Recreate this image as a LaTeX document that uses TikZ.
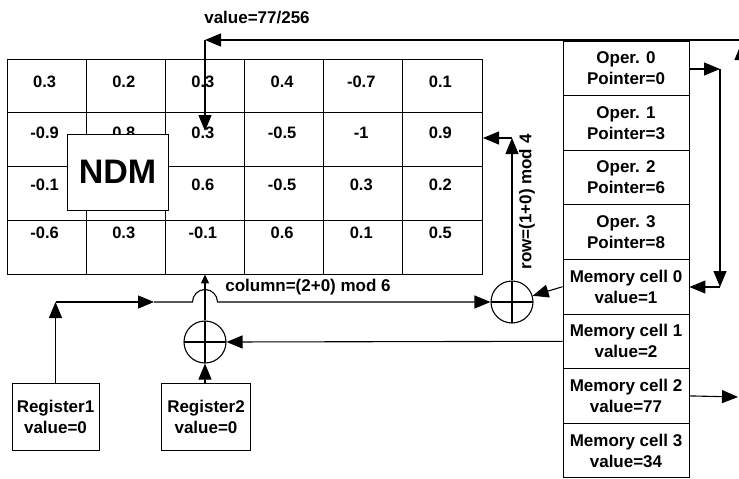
\documentclass[tikz,border=0pt]{standalone}
\usepackage{fontspec}
\setmainfont{Liberation Sans}
\usetikzlibrary{arrows.meta}
\begin{document}
\begin{tikzpicture}[x=1pt,y=-1pt,line width=1.1pt,
  arr/.style={-{Triangle[length=16pt,width=13pt]}},
  sarr/.style={-{Triangle[length=9pt,width=8pt]}},
  cellbox/.style={draw,line width=0.8pt,minimum width=79.17pt,minimum height=53.75pt,inner sep=0pt},
  celltxt/.style={font=\fontsize{16.5}{20}\selectfont\bfseries,inner sep=0pt},
  membox/.style={draw,line width=0.9pt,minimum width=126pt,minimum height=54.6pt,inner sep=0pt,align=center,font=\fontsize{17}{21}\selectfont\bfseries},
  regbox/.style={draw,line width=0.9pt,minimum height=67pt,inner sep=0pt,align=center,font=\fontsize{17}{21}\selectfont\bfseries},
  lbl/.style={inner sep=0pt,font=\fontsize{17}{21}\selectfont\bfseries},
  xorc/.style={draw,circle,minimum size=42pt,inner sep=0pt,
    path picture={\draw (path picture bounding box.north) -- (path picture bounding box.south)
                        (path picture bounding box.west) -- (path picture bounding box.east);}}]
\useasboundingbox (0,0) rectangle (739,479);
\clip (0,0) rectangle (739,479);
% grid
\foreach \r in {1,...,4}
  \foreach \c in {1,...,6}
    \node[cellbox] (g\r\c) at ({7+79.17*(\c-0.5)},{59+53.75*(\r-0.5)}) {};
\foreach \r/\ty/\vals in {1/82/{0.3,0.2,0.3,0.4,-0.7,0.1},
                          2/133/{-0.9,0.8,0.3,-0.5,-1,0.9},
                          3/185/{-0.1,,0.6,-0.5,0.3,0.2},
                          4/233/{-0.6,0.3,-0.1,0.6,0.1,0.5}}
  \foreach \v [count=\c] in \vals
    \node[celltxt] (t\r\c) at ({7+79.17*(\c-0.5)-2},\ty) {\v};
% NDM
\node[draw,fill=white,line width=0.9pt,minimum width=101pt,minimum height=76pt,inner sep=0pt,
      font=\fontsize{34}{40}\selectfont\bfseries] (ndm) at (117.5,172) {NDM};
% memory column
\foreach \t [count=\i from 0] in {{Oper. 0\\Pointer=0},{Oper. 1\\Pointer=3},{Oper. 2\\Pointer=6},{Oper. 3\\Pointer=8},
   {Memory cell 0\\value=1},{Memory cell 1\\value=2},{Memory cell 2\\value=77},{Memory cell 3\\value=34}}
  \node[membox] (m\i) at (626,{41+54.6*(\i+0.5)}) {\t};
% registers
\node[regbox,minimum width=87pt] (r1) at (55.5,417) {Register1\\value=0};
\node[regbox,minimum width=89pt] (r2) at (206,416.5) {Register2\\value=0};
% adders
\node[xorc] (c1) at (512,302) {};
\node[xorc] (c2) at (205,342) {};
% labels
\node[lbl] (lv) at (257,18) {value=77/256};
\node[lbl] (lc) at (308,287) {column=(2+0) mod 6};
\node[lbl,rotate=90] (lr) at (527,202) {row=(1+0) mod 4};
% top connector
\coordinate (tr) at (741,40);
\coordinate (tc) at (205,40);
\coordinate (td) at (205,131);
\draw[arr] (tr) -- (tc);
\draw[arr] (tc) -- (td);
\coordinate (ub) at (741,397);
\coordinate (ut) at (741,44);
\draw[arr] (ub) -- (ut);
\coordinate (m6r) at (738,397);
\draw[arr] (m6.east) -- (m6r);
% oper 0 pointer loop
\coordinate (o0) at (720,69);
\coordinate (oc) at (720,287);
\draw[arr] (m0.east |- o0) -- (o0);
\draw[arr] (o0) -- (oc);
\draw[arr] (oc) -- (m4.east |- oc);
% memory cell 0 to adder 1
\draw[arr] (m4.west) -- (c1);
% adder 1 to row
\coordinate (rc) at (512,138);
\coordinate (rl) at (483,138);
\draw[arr] (c1.north) -- (rc);
\draw[arr] (rc) -- (rl);
% register 1 path
\coordinate (r1t) at (55.5,302);
\coordinate (hm) at (154,302);
\draw[arr] (r1.north) -- (r1t);
\draw[arr] (r1t) -- (hm);
\draw[arr] (hm) -- (192.5,302) arc[start angle=180,end angle=0,radius=12.5pt] -- (c1.west);
% memory cell 1 to adder 2
\draw[arr] (m5.west) -- (c2.east);
\draw[arr] (r2.north -| c2.south) -- (c2.south);
\draw[sarr] (c2.north) -- (c2.north |- g43.south);
\end{tikzpicture}
\end{document}
